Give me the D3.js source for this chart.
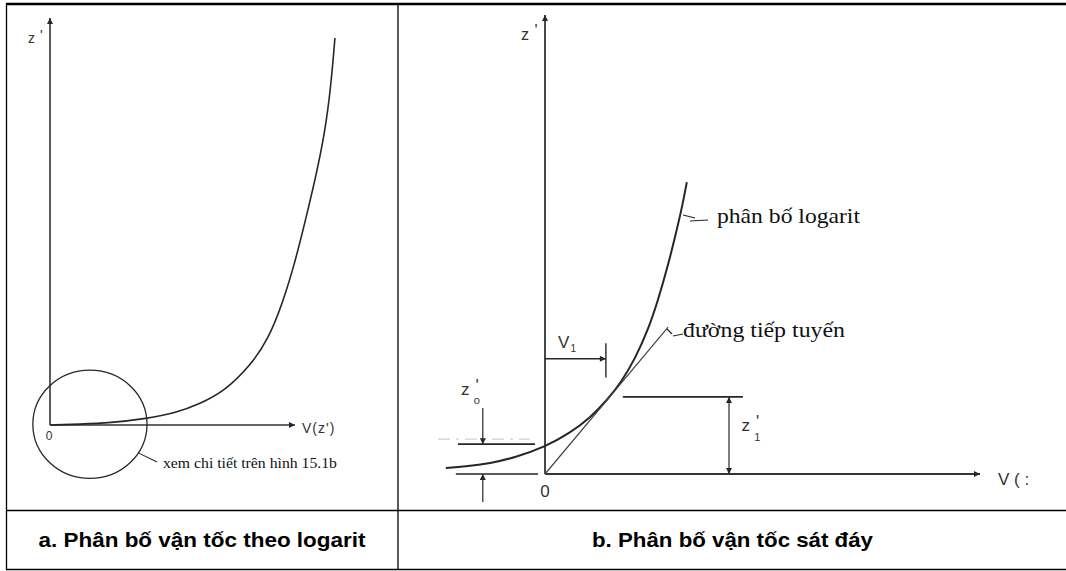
<!DOCTYPE html>
<html>
<head>
<meta charset="utf-8">
<script src="https://cdn.jsdelivr.net/npm/d3@7"></script>
<style>
  html, body { margin: 0; padding: 0; background: #fff; }
  svg { display: block; }
</style>
</head>
<body>
<svg id="fig" width="1066" height="571"></svg>
<script>
// Panel a: full logarithmic velocity profile, V (horizontal) against z' (vertical)
const profileA_V = [0, 12.2, 24.5, 39.6, 51.0, 61.2, 71.4, 81.6, 89.0, 95.1, 100.0, 104.1, 108.2, 112.2, 114.7, 116.3];
const profileA_Z = [0, 0.2, 0.5, 1.6, 2.9, 5.2, 8.4, 14.5, 20.9, 30.2, 40.0, 49.9, 60.2, 71.7, 83.5, 95.1];

// Panel b: near-bed detail of the same profile
const profileB_V = [-22.8, -18.4, -12.6, -6.9, 0, 5.7, 10.3, 14.5, 17.7, 20.7, 23.7, 26.0, 28.3, 30.3, 31.7, 32.6];
const profileB_Z = [1.3, 1.6, 2.3, 3.6, 5.9, 8.9, 12.2, 16.3, 20.3, 25.1, 31.4, 37.9, 45.5, 53.2, 59.0, 63.6];
// tangent drawn from the origin
const tangentB_V = [0, 28.3];
const tangentB_Z = [0, 32.0];
// characteristic heights / velocity of panel b
const z0 = 6.5;
const z1 = 16.8;
const V1 = 14.0;

const captions = ["a. Phân bố vận tốc theo logarit", "b. Phân bố vận tốc sát đáy"];
const curveLabels = ["phân bố logarit", "đường tiếp tuyến"];
const noteText = "xem chi tiết trên hình 15.1b";

const svg = d3.select("#fig");
const ink = "#262626";
const axisInk = "#333";
const sans = "'Liberation Sans', Arial, sans-serif";
const serif = "'Liberation Serif', 'Times New Roman', serif";

// arrowhead marker
const defs = svg.append("defs");
defs.append("marker")
  .attr("id", "arr")
  .attr("viewBox", "0 0 10 10")
  .attr("refX", 10).attr("refY", 5)
  .attr("markerWidth", 9).attr("markerHeight", 6)
  .attr("markerUnits", "userSpaceOnUse")
  .attr("orient", "auto-start-reverse")
  .append("path").attr("d", "M0,0L10,5L0,10z").attr("fill", ink);

// ---- table frame ----
const frame = svg.append("g").attr("stroke", "#000").attr("fill", "none");
[[6, 4, 1066, 4, 2.5], [6.5, 3, 6.5, 570, 1.3], [398, 3, 398, 570, 1.3],
 [6, 510.5, 1066, 510.5, 1.3], [6, 569.5, 1066, 569.5, 1.3]].forEach(l => {
  frame.append("line").attr("x1", l[0]).attr("y1", l[1]).attr("x2", l[2]).attr("y2", l[3])
    .attr("stroke-width", l[4]);
});

// captions
const capX = [202, 732.5];
const capW = [327, 281];
captions.forEach((c, i) => {
  svg.append("text").text(c)
    .attr("x", capX[i]).attr("y", 547)
    .attr("text-anchor", "middle")
    .attr("font-family", sans).attr("font-weight", "bold").attr("font-size", 20)
    .attr("textLength", capW[i]).attr("lengthAdjust", "spacingAndGlyphs")
    .attr("fill", "#000");
});

function primeLabel(g, x, y, size, base, sub) {
  const t = g.append("text").attr("x", x).attr("y", y)
    .attr("font-family", sans).attr("font-size", size).attr("fill", axisInk);
  t.append("tspan").text(base);
  t.append("tspan").text("'").attr("dx", size * 0.35).attr("dy", -size * 0.25);
  if (sub) {
    t.append("tspan").text(sub).attr("dx", -size * 0.3).attr("dy", size * 0.8)
      .attr("font-size", size * 0.65);
  }
  return t;
}

// ---- panel a ----
const xA = d3.scaleLinear().domain([0, 100]).range([50, 295]);
const yA = d3.scaleLinear().domain([0, 100]).range([425, 18]);
const gA = svg.append("g");

gA.append("line")
  .attr("x1", xA(0)).attr("y1", yA(0)).attr("x2", xA(100)).attr("y2", yA(0))
  .attr("stroke", axisInk).attr("stroke-width", 1.6).attr("marker-end", "url(#arr)");
gA.append("line")
  .attr("x1", xA(0)).attr("y1", yA(0)).attr("x2", xA(0)).attr("y2", yA(100))
  .attr("stroke", axisInk).attr("stroke-width", 1.6).attr("marker-end", "url(#arr)");

const lineA = d3.line().x(d => xA(d[0])).y(d => yA(d[1])).curve(d3.curveBasis);
gA.append("path").datum(d3.zip(profileA_V, profileA_Z))
  .attr("d", lineA).attr("fill", "none").attr("stroke", ink).attr("stroke-width", 1.6);

primeLabel(gA, xA(0) - 22, yA(100) + 25, 14, "z");
gA.append("text").text("0").attr("x", xA(0) - 1).attr("y", yA(0) + 15)
  .attr("text-anchor", "middle").attr("font-family", sans).attr("font-size", 12).attr("fill", axisInk);
gA.append("text").text("V(z')").attr("x", xA(100) + 7).attr("y", yA(0) + 8)
  .attr("font-family", sans).attr("font-size", 14).attr("letter-spacing", 1).attr("fill", axisInk);

// detail circle around the origin
const cV = 16.3, cZ = 0.2, rV = 23.3, rZ = 13.3;
const ecx = xA(cV), ecy = yA(cZ), erx = xA(rV) - xA(0), ery = yA(0) - yA(rZ);
gA.append("ellipse").attr("cx", ecx).attr("cy", ecy).attr("rx", erx).attr("ry", ery)
  .attr("fill", "none").attr("stroke", ink).attr("stroke-width", 1.3);
const ang = 32 * Math.PI / 180;
gA.append("line")
  .attr("x1", ecx + erx * Math.cos(ang)).attr("y1", ecy + ery * Math.sin(ang))
  .attr("x2", 157).attr("y2", 462)
  .attr("stroke", ink).attr("stroke-width", 1.1);
gA.append("text").text(noteText).attr("x", 163).attr("y", 468)
  .attr("font-family", serif).attr("font-size", 14.5).attr("fill", "#111")
  .attr("textLength", 174).attr("lengthAdjust", "spacingAndGlyphs");

// ---- panel b ----
const xB = d3.scaleLinear().domain([0, 100]).range([545, 980]);
const yB = d3.scaleLinear().domain([0, 100]).range([474, 15]);
const gB = svg.append("g");

gB.append("line")
  .attr("x1", xB(0)).attr("y1", yB(0)).attr("x2", xB(100)).attr("y2", yB(0))
  .attr("stroke", axisInk).attr("stroke-width", 1.8).attr("marker-end", "url(#arr)");
gB.append("line")
  .attr("x1", xB(0)).attr("y1", yB(0)).attr("x2", xB(0)).attr("y2", yB(100))
  .attr("stroke", axisInk).attr("stroke-width", 1.8).attr("marker-end", "url(#arr)");

const lineB = d3.line().x(d => xB(d[0])).y(d => yB(d[1])).curve(d3.curveBasis);
gB.append("path").datum(d3.zip(profileB_V, profileB_Z))
  .attr("d", lineB).attr("fill", "none").attr("stroke", ink).attr("stroke-width", 2);
gB.append("path").datum(d3.zip(tangentB_V, tangentB_Z))
  .attr("d", d3.line().x(d => xB(d[0])).y(d => yB(d[1])))
  .attr("fill", "none").attr("stroke", "#444").attr("stroke-width", 1.2);

// z'0 marks: faint guide, level line, bed line, and pointing arrows
gB.append("line")
  .attr("x1", xB(-24.6)).attr("y1", yB(z0 + 1.1)).attr("x2", xB(-3.5)).attr("y2", yB(z0 + 1.1))
  .attr("stroke", "#c4c4c4").attr("stroke-width", 1).attr("stroke-dasharray", "12,6,3,6");
gB.append("line")
  .attr("x1", xB(-20)).attr("y1", yB(z0)).attr("x2", xB(-2.3)).attr("y2", yB(z0))
  .attr("stroke", ink).attr("stroke-width", 1.6);
gB.append("line")
  .attr("x1", xB(-20.5)).attr("y1", yB(0)).attr("x2", xB(-1.6)).attr("y2", yB(0))
  .attr("stroke", ink).attr("stroke-width", 1.6);
gB.append("line")
  .attr("x1", xB(-14.3)).attr("y1", yB(z0 + 7.9)).attr("x2", xB(-14.3)).attr("y2", yB(z0))
  .attr("stroke", ink).attr("stroke-width", 1.2).attr("marker-end", "url(#arr)");
gB.append("line")
  .attr("x1", xB(-14.3)).attr("y1", yB(-6.1)).attr("x2", xB(-14.3)).attr("y2", yB(0))
  .attr("stroke", ink).attr("stroke-width", 1.2).attr("marker-end", "url(#arr)");
primeLabel(gB, xB(-19.3), yB(z0 + 10.7), 17, "z", "o");

// V1 dimension
const zV1 = 25.1;
gB.append("line")
  .attr("x1", xB(0)).attr("y1", yB(zV1)).attr("x2", xB(V1)).attr("y2", yB(zV1))
  .attr("stroke", ink).attr("stroke-width", 1.4).attr("marker-end", "url(#arr)");
gB.append("line")
  .attr("x1", xB(V1)).attr("y1", yB(zV1 + 3.4)).attr("x2", xB(V1)).attr("y2", yB(zV1 - 4.1))
  .attr("stroke", ink).attr("stroke-width", 1.4);
const v1t = gB.append("text").attr("x", xB(3)).attr("y", yB(zV1 + 2.4))
  .attr("font-family", sans).attr("font-size", 17).attr("fill", axisInk);
v1t.append("tspan").text("V");
v1t.append("tspan").text("1").attr("dx", 1).attr("dy", 4).attr("font-size", 10);

// z'1 dimension
gB.append("line")
  .attr("x1", xB(17.9)).attr("y1", yB(z1)).attr("x2", xB(45.5)).attr("y2", yB(z1))
  .attr("stroke", ink).attr("stroke-width", 1.6);
gB.append("line")
  .attr("x1", xB(42.3)).attr("y1", yB(z1)).attr("x2", xB(42.3)).attr("y2", yB(0))
  .attr("stroke", ink).attr("stroke-width", 1.2)
  .attr("marker-start", "url(#arr)").attr("marker-end", "url(#arr)");
primeLabel(gB, xB(45.2), yB(z1 - 7.5), 17, "z", "1");

// axis labels
primeLabel(gB, xB(0) - 24, yB(100) + 25, 16, "z");
gB.append("text").text("0").attr("x", xB(0)).attr("y", yB(0) + 23)
  .attr("text-anchor", "middle").attr("font-family", sans).attr("font-size", 17).attr("fill", axisInk);
gB.append("text").text("V ( :").attr("x", xB(100) + 18).attr("y", yB(0) + 11)
  .attr("font-family", sans).attr("font-size", 17).attr("fill", axisInk);

// curve callouts
gB.append("path").attr("d", "M683,215 L695,218 M690,221 L708,220")
  .attr("fill", "none").attr("stroke", ink).attr("stroke-width", 1.2);
gB.append("text").text(curveLabels[0]).attr("x", 717).attr("y", 223)
  .attr("font-family", serif).attr("font-size", 21).attr("fill", "#111")
  .attr("textLength", 143).attr("lengthAdjust", "spacingAndGlyphs");
gB.append("path").attr("d", "M667,329 L672,334 M673,336 L683,334")
  .attr("fill", "none").attr("stroke", ink).attr("stroke-width", 1.2);
gB.append("text").text(curveLabels[1]).attr("x", 683).attr("y", 337)
  .attr("font-family", serif).attr("font-size", 21).attr("fill", "#111")
  .attr("textLength", 162).attr("lengthAdjust", "spacingAndGlyphs");
</script>
</body>
</html>
